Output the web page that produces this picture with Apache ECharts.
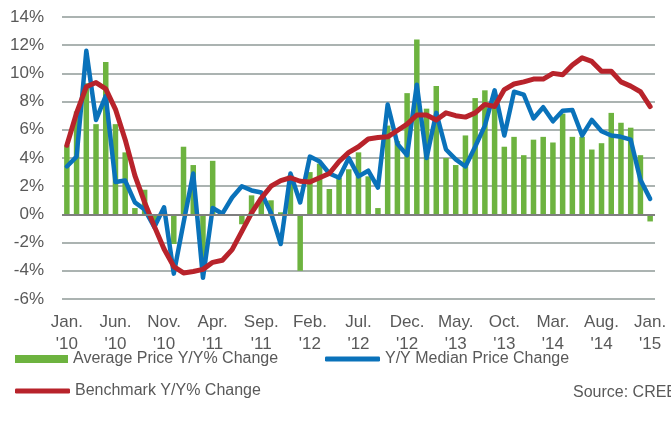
<!DOCTYPE html>
<html>
<head>
<meta charset="utf-8">
<script src="https://cdn.jsdelivr.net/npm/echarts@6/dist/echarts.min.js"></script>
<style>
  html, body { margin: 0; padding: 0; background: #fff; }
  #chart { width: 671px; height: 427px; }
</style>
</head>
<body>
<div id="chart"></div>
<script>
// months Jan 2010 .. Jan 2015
var months = [
    'Jan 10', 'Feb 10', 'Mar 10', 'Apr 10', 'May 10', 'Jun 10', 'Jul 10', 'Aug 10', 'Sep 10', 'Oct 10', 'Nov 10', 'Dec 10',
    'Jan 11', 'Feb 11', 'Mar 11', 'Apr 11', 'May 11', 'Jun 11', 'Jul 11', 'Aug 11', 'Sep 11', 'Oct 11', 'Nov 11', 'Dec 11',
    'Jan 12', 'Feb 12', 'Mar 12', 'Apr 12', 'May 12', 'Jun 12', 'Jul 12', 'Aug 12', 'Sep 12', 'Oct 12', 'Nov 12', 'Dec 12',
    'Jan 13', 'Feb 13', 'Mar 13', 'Apr 13', 'May 13', 'Jun 13', 'Jul 13', 'Aug 13', 'Sep 13', 'Oct 13', 'Nov 13', 'Dec 13',
    'Jan 14', 'Feb 14', 'Mar 14', 'Apr 14', 'May 14', 'Jun 14', 'Jul 14', 'Aug 14', 'Sep 14', 'Oct 14', 'Nov 14', 'Dec 14',
    'Jan 15'
];

// x axis labels, one every 5 months
var tickLabels = ["Jan.\n'10", "Jun.\n'10", "Nov.\n'10", "Apr.\n'11", "Sep.\n'11", "Feb.\n'12", "Jul.\n'12",
    "Dec.\n'12", "May.\n'13", "Oct.\n'13", "Mar.\n'14", "Aug.\n'14", "Jan.\n'15"];

// Average Price Y/Y% Change (bars)
var avgPrice = [
    4.9, 7.3, 9.3, 6.4, 10.8, 6.4, 4.4, 0.45, 1.75, -0.8, 0, -2.1,
    4.8, 3.5, -3.6, 3.8, 0, 0, -0.7, 1.35, 1.2, 1.0, 0.15, 2.8,
    -4.0, 3.0, 3.6, 1.8, 2.6, 3.2, 4.4, 2.7, 0.45, 6.3, 5.2, 8.6,
    12.4, 7.5, 9.1, 4.0, 3.5, 5.6, 8.25, 8.8, 8.4, 4.8, 5.5, 4.2,
    5.3, 5.5, 5.1, 7.15, 5.5, 5.5, 4.6, 5.05, 7.2, 6.5, 6.15, 4.2,
    -0.5
];

// Y/Y Median Price Change
var medianPrice = [
    3.4, 4.1, 11.6, 6.7, 8.4, 2.3, 2.4, 0.85, 0.35, -0.9, 0.5, -4.2,
    -0.6, 2.9, -4.5, 0.45, 0.05, 1.2, 2.0, 1.7, 1.55, 0.1, -2.1, 2.9,
    0.85, 4.1, 3.75, 2.9, 2.6, 4.0, 2.7, 3.1, 1.9, 7.8, 5.0, 4.2,
    9.2, 4.0, 7.2, 4.6, 3.9, 3.4, 4.8, 6.3, 8.8, 5.6, 8.7, 8.5,
    6.8, 7.6, 6.6, 7.35, 7.4, 5.6, 6.7, 5.9, 5.6, 5.5, 5.3, 2.45,
    1.1
];

// Benchmark Y/Y% Change
var benchmark = [
    4.9, 7.2, 9.05, 9.35, 8.9, 7.45, 5.3, 2.75, 0.85, -0.85, -2.45, -3.7,
    -4.15, -4.05, -3.9, -3.4, -3.25, -2.5, -1.2, 0.1, 1.15, 2.0, 2.4, 2.6,
    2.35, 2.3, 2.6, 2.9, 3.75, 4.4, 4.8, 5.35, 5.45, 5.5, 5.95, 6.4,
    7.05, 7.05, 6.7, 7.2, 7.0, 6.9, 7.2, 7.8, 7.65, 8.85, 9.25, 9.4,
    9.6, 9.6, 10.0, 9.9, 10.6, 11.1, 10.85, 10.15, 10.15, 9.4, 9.1, 8.7,
    7.65
];

var textColor = '#595959';

var myChart = echarts.init(document.getElementById('chart'));
var option = {
    animation: false,
    backgroundColor: '#fff',
    textStyle: { fontFamily: 'Liberation Sans, Arial, sans-serif' },
    grid: {
        left: 62,
        right: 16,
        top: 17,
        bottom: 128
    },
    legend: [
        {
            left: 15, top: 351, padding: 0,
            itemWidth: 53, itemHeight: 8,
            data: [{ name: 'Average Price Y/Y% Change', icon: 'rect' }],
            textStyle: { fontSize: 16, color: textColor }
        },
        {
            left: 325, top: 351, padding: 0,
            itemWidth: 55, itemHeight: 5,
            data: [{ name: 'Y/Y Median Price Change', icon: 'roundRect' }],
            textStyle: { fontSize: 16, color: textColor }
        },
        {
            left: 15, top: 383, padding: 0,
            itemWidth: 55, itemHeight: 5,
            data: [{ name: 'Benchmark Y/Y% Change', icon: 'roundRect' }],
            textStyle: { fontSize: 16, color: textColor }
        }
    ],
    graphic: [
        {
            type: 'text',
            left: 573,
            top: 385,
            style: {
                text: 'Source: CREB',
                fontSize: 16,
                fill: textColor,
                fontFamily: 'Liberation Sans, Arial, sans-serif'
            }
        }
    ],
    xAxis: {
        type: 'category',
        data: months,
        boundaryGap: true,
        axisLine: { show: false },
        axisTick: { show: false },
        axisLabel: {
            interval: 4,
            color: textColor,
            fontSize: 17,
            lineHeight: 22,
            margin: 12,
            formatter: function (value, index) {
                return tickLabels[index / 5] || '';
            }
        }
    },
    yAxis: {
        type: 'value',
        min: -6,
        max: 14,
        interval: 2,
        axisLine: { show: false },
        axisTick: { show: false },
        axisLabel: {
            color: textColor,
            fontSize: 17,
            margin: 18,
            formatter: '{value}%'
        },
        splitLine: {
            lineStyle: { color: '#8f9a97', width: 1.5 }
        }
    },
    series: [
        {
            name: 'Average Price Y/Y% Change',
            type: 'bar',
            data: avgPrice,
            barWidth: 5.5,
            itemStyle: { color: '#6db33f' },
            markLine: {
                silent: true,
                symbol: 'none',
                label: { show: false },
                lineStyle: { color: '#7f7f7f', width: 2, type: 'solid' },
                data: [{ yAxis: 0 }]
            }
        },
        {
            name: 'Y/Y Median Price Change',
            type: 'line',
            data: medianPrice,
            showSymbol: false,
            itemStyle: { color: '#0a72ba' },
            lineStyle: { color: '#0a72ba', width: 4.5, cap: 'round', join: 'round' }
        },
        {
            name: 'Benchmark Y/Y% Change',
            type: 'line',
            data: benchmark,
            showSymbol: false,
            itemStyle: { color: '#b8232b' },
            lineStyle: { color: '#b8232b', width: 5, cap: 'round', join: 'round' }
        }
    ]
};
myChart.setOption(option);
</script>
</body>
</html>
